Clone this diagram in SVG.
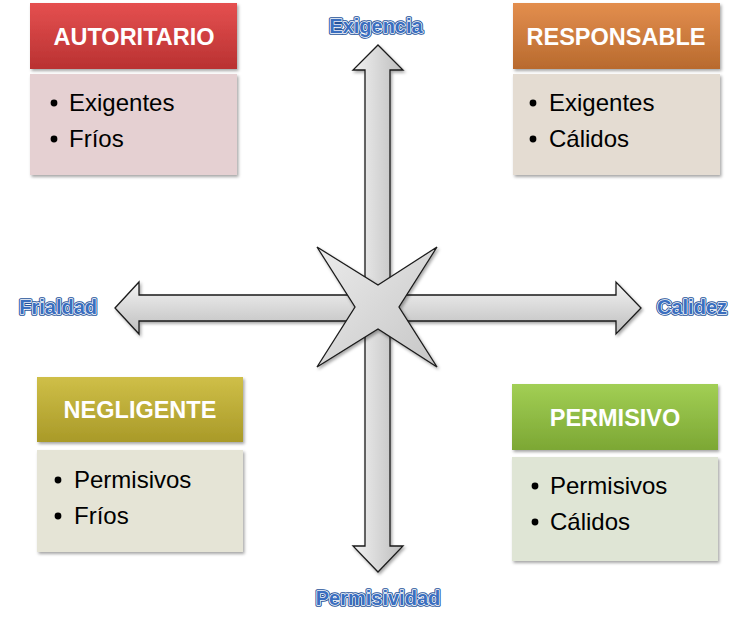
<svg xmlns="http://www.w3.org/2000/svg" width="742" height="621" viewBox="0 0 742 621">
<style>
.hdr{font-family:"Liberation Sans",Arial,sans-serif;font-weight:bold;font-size:23.5px;fill:#ffffff;text-anchor:middle}
.item{font-family:"Liberation Sans",Arial,sans-serif;font-size:24px;fill:#000000}
.ax{font-family:"Liberation Sans",Arial,sans-serif;font-weight:bold;font-size:20px;stroke-linejoin:round}
.axb{fill:none;stroke:#24529a;stroke-width:3.4}
.axw{fill:none;stroke:#ffffff;stroke-width:1.5}
.axf{fill:#3b6fc0}
.arrow{stroke:#1a1a1a;stroke-width:1.3;stroke-linejoin:miter}
</style>
<defs>
<filter id="sh" x="-10%" y="-10%" width="130%" height="130%">
<feDropShadow dx="1.5" dy="2" stdDeviation="1.5" flood-color="#000" flood-opacity="0.35"/>
</filter>
<linearGradient id="gRed" x1="0" y1="0" x2="0" y2="1"><stop offset="0" stop-color="#e55050"/><stop offset="1" stop-color="#b93131"/></linearGradient>
<linearGradient id="gOr" x1="0" y1="0" x2="0" y2="1"><stop offset="0" stop-color="#e38e4e"/><stop offset="1" stop-color="#b86a2e"/></linearGradient>
<linearGradient id="gOl" x1="0" y1="0" x2="0" y2="1"><stop offset="0" stop-color="#cfbf48"/><stop offset="1" stop-color="#a99a28"/></linearGradient>
<linearGradient id="gGr" x1="0" y1="0" x2="0" y2="1"><stop offset="0" stop-color="#a2cf55"/><stop offset="1" stop-color="#7ca734"/></linearGradient>
<linearGradient id="gV" x1="0" y1="0" x2="1" y2="0"><stop offset="0" stop-color="#f2f2f2"/><stop offset="1" stop-color="#bdbdbd"/></linearGradient>
<linearGradient id="gH" x1="0" y1="0" x2="0" y2="1"><stop offset="0" stop-color="#f4f4f4"/><stop offset="1" stop-color="#bdbdbd"/></linearGradient>
<linearGradient id="gS" x1="0" y1="0" x2="1" y2="1"><stop offset="0" stop-color="#ebebeb"/><stop offset="1" stop-color="#c6c6c6"/></linearGradient>
</defs>

<g id="connectors">
<polygon class="arrow" filter="url(#sh)" fill="url(#gV)" points="378,45 403,70 390,70 390,546 403,546 378,572 353,546 365,546 365,70 353,70"/>
<polygon class="arrow" filter="url(#sh)" fill="url(#gH)" points="115,308 139,282 139,295 616,295 616,282 641,308 616,334 616,321 139,321 139,334"/>
</g>

<g id="center-star">
<polygon class="arrow" filter="url(#sh)" fill="url(#gS)" points="317,247 378,285 437,247 399,307 437,367 378,329 317,367 355,307"/>
</g>

<g id="label-exigencia" class="ax" text-anchor="middle">
<text class="axb" x="376" y="33">Exigencia</text>
<text class="axw" x="376" y="33">Exigencia</text>
<text class="axf" x="376" y="33">Exigencia</text>
</g>
<g id="label-frialdad" class="ax" text-anchor="end">
<text class="axb" x="97" y="314">Frialdad</text>
<text class="axw" x="97" y="314">Frialdad</text>
<text class="axf" x="97" y="314">Frialdad</text>
</g>
<g id="label-calidez" class="ax">
<text class="axb" x="657" y="314">Calidez</text>
<text class="axw" x="657" y="314">Calidez</text>
<text class="axf" x="657" y="314">Calidez</text>
</g>
<g id="label-permisividad" class="ax" text-anchor="middle">
<text class="axb" x="378" y="605">Permisividad</text>
<text class="axw" x="378" y="605">Permisividad</text>
<text class="axf" x="378" y="605">Permisividad</text>
</g>

<g id="autoritario">
<rect x="30" y="3" width="207" height="66" fill="url(#gRed)" filter="url(#sh)"/>
<text class="hdr" x="134" y="45">AUTORITARIO</text>
<rect x="30" y="74" width="207" height="101" fill="#e5d0d2" filter="url(#sh)"/>
<circle cx="54" cy="103" r="3.4" fill="#000"/>
<text class="item" x="69" y="111">Exigentes</text>
<circle cx="54" cy="139" r="3.4" fill="#000"/>
<text class="item" x="69" y="147">Fríos</text>
</g>

<g id="responsable">
<rect x="513" y="3" width="207" height="66" fill="url(#gOr)" filter="url(#sh)"/>
<text class="hdr" x="616" y="45">RESPONSABLE</text>
<rect x="513" y="74" width="207" height="101" fill="#e4dcd2" filter="url(#sh)"/>
<circle cx="533" cy="103" r="3.4" fill="#000"/>
<text class="item" x="549" y="111">Exigentes</text>
<circle cx="533" cy="139" r="3.4" fill="#000"/>
<text class="item" x="549" y="147">Cálidos</text>
</g>

<g id="negligente">
<rect x="37" y="377" width="206" height="65" fill="url(#gOl)" filter="url(#sh)"/>
<text class="hdr" x="140" y="418">NEGLIGENTE</text>
<rect x="37" y="450" width="206" height="102" fill="#e5e4d6" filter="url(#sh)"/>
<circle cx="58" cy="480" r="3.4" fill="#000"/>
<text class="item" x="74" y="488">Permisivos</text>
<circle cx="58" cy="516" r="3.4" fill="#000"/>
<text class="item" x="74" y="524">Fríos</text>
</g>

<g id="permisivo">
<rect x="512" y="384" width="206" height="66" fill="url(#gGr)" filter="url(#sh)"/>
<text class="hdr" x="615" y="426">PERMISIVO</text>
<rect x="512" y="457" width="206" height="104" fill="#dfe5d5" filter="url(#sh)"/>
<circle cx="535" cy="486" r="3.4" fill="#000"/>
<text class="item" x="550" y="494">Permisivos</text>
<circle cx="535" cy="522" r="3.4" fill="#000"/>
<text class="item" x="550" y="530">Cálidos</text>
</g>
</svg>
